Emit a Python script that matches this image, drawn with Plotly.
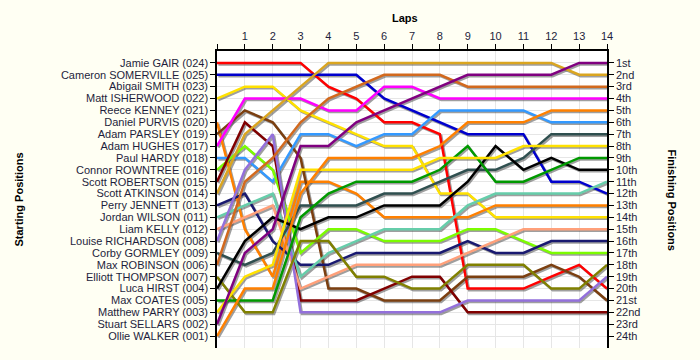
import plotly.graph_objects as go

laps = list(range(15))
lap_labels = [""] + [str(i) for i in range(1, 15)]

start_names = [
    "Jamie GAIR (024)", "Cameron SOMERVILLE (025)", "Abigail SMITH (023)",
    "Matt ISHERWOOD (022)", "Reece KENNEY (021)", "Daniel PURVIS (020)",
    "Adam PARSLEY (019)", "Adam HUGHES (017)", "Paul HARDY (018)",
    "Connor ROWNTREE (016)", "Scott ROBERTSON (015)", "Scott ATKINSON (014)",
    "Perry JENNETT (013)", "Jordan WILSON (011)", "Liam KELLY (012)",
    "Louise RICHARDSON (008)", "Corby GORMLEY (009)", "Max ROBINSON (006)",
    "Elliott THOMPSON (007)", "Luca HIRST (004)", "Max COATES (005)",
    "Matthew PARRY (003)", "Stuart SELLARS (002)", "Ollie WALKER (001)",
]
finish_labels = ["1st", "2nd", "3rd"] + [f"{i}th" for i in range(4, 21)] + ["21st", "22nd", "23rd", "24th"]

# positions per lap (lap 0 = grid)
gair = [1, 1, 1, 1, 3, 4, 6, 6, 7, 20, 20, 20, 19, 18, 20]
somerville = [2, 2, 2, 2, 2, 2, 4, 5, 6, 7, 7, 7, 11, 11, 12]
isherwood = [4, 3, 3, 5, 6, 7, 8, 8, 12, 12, 14, 14, 14, 14, 14]
purvis = [6, 15, 19, 11, 11, 12, 14, 14, 14, 14, 13, 13, 13, 13, 13]
parsley = [7, 5, 6, 9, 20, 20, 21, 21, 21, 19, 19, 19, 18, 19, 21]
hughes = [8, 4, 4, 4, 5, 5, 3, 3, 4, 4, 4, 4, 4, 4, 4]
hardy = [9, 9, 11, 7, 7, 8, 7, 7, 5, 5, 5, 5, 6, 6, 6]
rowntree = [10, 8, 10, 17, 15, 15, 16, 16, 16, 15, 15, 16, 17, 17, 17]
robertson = [11, 6, 8, 21, 21, 21, 20, 19, 19, 22, 22, 22, 22, 22, 22]
atkinson = [12, 7, 5, 3, 1, 1, 1, 1, 1, 1, 1, 1, 1, 2, 2]
jennett = [13, 12, 16, 18, 18, 17, 17, 17, 17, 16, 17, 17, 16, 16, 16]
wilson = [14, 13, 12, 19, 17, 16, 15, 15, 15, 13, 12, 12, 12, 12, 11]
kelly = [15, 14, 13, 20, 19, 18, 18, 18, 18, 17, 16, 15, 15, 15, 15]
richardson = [16, 10, 7, 22, 22, 22, 22, 22, 22, 21, 21, 21, 21, 21, 19]
gormley = [17, 18, 17, 13, 13, 13, 12, 12, 11, 10, 10, 9, 7, 7, 7]
robinson = [18, 11, 9, 6, 4, 3, 2, 2, 2, 3, 3, 3, 3, 3, 3]
thompson = [19, 22, 22, 16, 16, 19, 19, 20, 20, 18, 18, 18, 20, 20, 18]
hirst = [20, 16, 14, 15, 14, 14, 13, 13, 13, 11, 8, 10, 9, 10, 10]
coates = [21, 21, 21, 14, 12, 11, 11, 11, 10, 8, 11, 11, 10, 9, 9]
parry = [22, 19, 18, 10, 10, 10, 10, 10, 9, 9, 9, 8, 8, 8, 8]
sellars = [23, 17, 15, 8, 8, 6, 5, 4, 3, 2, 2, 2, 2, 1, 1]
walker = [24, 20, 20, 12, 9, 9, 9, 9, 8, 6, 6, 6, 5, 5, 5]

series = [
    ("Jamie GAIR", gair, "#FF0000"),
    ("Cameron SOMERVILLE", somerville, "#0000CD"),
    ("Matt ISHERWOOD", isherwood, "#FFE100"),
    ("Daniel PURVIS", purvis, "#FF8000"),
    ("Adam PARSLEY", parsley, "#7B3F10"),
    ("Adam HUGHES", hughes, "#FF00FF"),
    ("Paul HARDY", hardy, "#3399FF"),
    ("Connor ROWNTREE", rowntree, "#7CFC00"),
    ("Scott ROBERTSON", robertson, "#800000"),
    ("Scott ATKINSON", atkinson, "#DAA520"),
    ("Perry JENNETT", jennett, "#191970"),
    ("Jordan WILSON", wilson, "#66CDAA"),
    ("Liam KELLY", kelly, "#FFA07A"),
    ("Louise RICHARDSON", richardson, "#9370DB"),
    ("Corby GORMLEY", gormley, "#2F4F4F"),
    ("Max ROBINSON", robinson, "#D2691E"),
    ("Elliott THOMPSON", thompson, "#808000"),
    ("Luca HIRST", hirst, "#000000"),
    ("Max COATES", coates, "#009900"),
    ("Matthew PARRY", parry, "#FFE100"),
    ("Stuart SELLARS", sellars, "#800080"),
    ("Ollie WALKER", walker, "#FF8000"),
]

fig = go.Figure()
# drop shadows
for name, ys, col in series:
    fig.add_trace(go.Scatter(
        x=[l + 0.05 for l in laps], y=[v + 0.13 for v in ys], mode="lines",
        line=dict(color="rgba(80,80,80,0.55)", width=2.5),
        hoverinfo="skip", showlegend=False))
for name, ys, col in series:
    fig.add_trace(go.Scatter(
        x=laps, y=ys, mode="lines", name=name,
        line=dict(color=col, width=2.5), showlegend=False))

font_main = "Liberation Sans, Arial, sans-serif"
tick_col = "#1E1E3C"

fig.update_layout(
    width=700, height=360,
    margin=dict(l=217, r=93, t=51, b=12),
    paper_bgcolor="#FFFFF3",
    plot_bgcolor="#FFFFFF",
    showlegend=False,
    font=dict(family=font_main, size=11, color=tick_col),
    xaxis=dict(
        side="top", range=[0, 14], tickvals=laps, ticktext=lap_labels,
        ticks="outside", ticklen=5, tickcolor="black",
        showline=True, linecolor="black", linewidth=1.5,
        showgrid=True, gridcolor="#E6E6E6", gridwidth=1, zeroline=False,
        tickfont=dict(size=11, color=tick_col),
    ),
    yaxis=dict(
        range=[25, 0], tickvals=list(range(1, 25)), ticktext=start_names,
        ticks="outside", ticklen=5, tickcolor="black",
        showline=True, linecolor="black", linewidth=1.5,
        showgrid=True, gridcolor="#E6E6E6", gridwidth=1, zeroline=False,
        tickfont=dict(size=11, color=tick_col),
    ),
    yaxis2=dict(
        overlaying="y", side="right", matches="y",
        range=[25, 0], tickvals=list(range(1, 25)), ticktext=finish_labels,
        ticks="outside", ticklen=5, tickcolor="black",
        showline=True, linecolor="black", linewidth=1.5,
        showgrid=False, zeroline=False,
        tickfont=dict(size=11, color=tick_col),
    ),
)
fig.add_trace(go.Scatter(x=[None], y=[None], yaxis="y2", showlegend=False, hoverinfo="skip"))

fig.add_annotation(text="<b>Laps</b>", xref="paper", yref="paper",
                   x=(405 - 217) / 390, y=(348 - 18) / 297, showarrow=False,
                   font=dict(size=11, color="black", family=font_main),
                   xanchor="center", yanchor="middle")
fig.add_annotation(text="<b>Starting Positions</b>", xref="paper", yref="paper",
                   x=(18 - 217) / 390, y=0.5, showarrow=False, textangle=-90,
                   font=dict(size=11, color="black", family=font_main),
                   xanchor="center", yanchor="middle")
fig.add_annotation(text="<b>Finishing Positions</b>", xref="paper", yref="paper",
                   x=(672 - 217) / 390, y=0.5, showarrow=False, textangle=90,
                   font=dict(size=11, color="black", family=font_main),
                   xanchor="center", yanchor="middle")

fig.write_html("out.html")
